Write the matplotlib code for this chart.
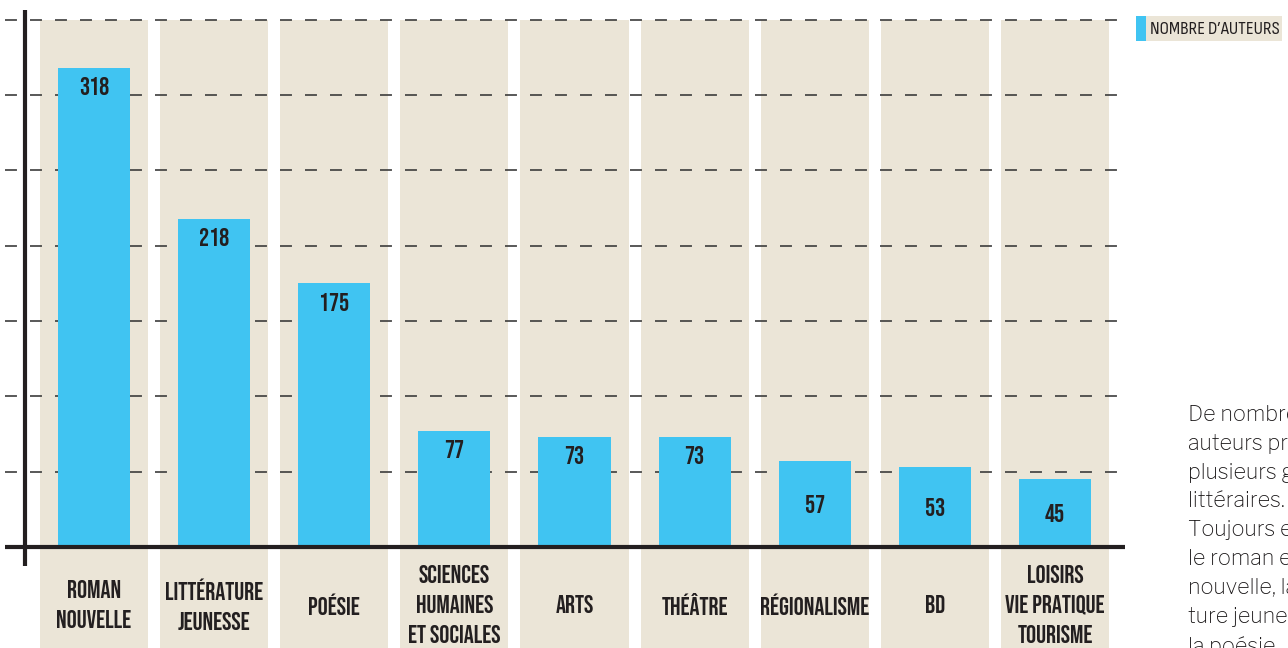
import matplotlib
matplotlib.use('Agg')
import matplotlib.pyplot as plt
from matplotlib.patches import Rectangle

plt.rcParams['lines.scale_dashes'] = False

categories = ['ROMAN\nNOUVELLE', 'LITTÉRATURE\nJEUNESSE', 'POÉSIE',
              'SCIENCES\nHUMAINES\nET SOCIALES', 'ARTS', 'THÉÂTRE',
              'RÉGIONALISME', 'BD', 'LOISIRS\nVIE PRATIQUE\nTOURISME']
auteurs = [318, 218, 175, 77, 73, 73, 57, 53, 45]
grid_values = [50, 100, 150, 200, 250, 300, 350]

blue = '#40c4f2'
beige = '#ebe5d7'
dark = '#231f20'
cond = ['Bebas Neue', 'Pathway Gothic One', 'DejaVu Sans']
legend_font = ['Sofia Sans Condensed', 'DejaVu Sans']
body_font = ['Libre Franklin', 'DejaVu Sans']

W, H = 1288, 648
fig = plt.figure(figsize=(W / 100, H / 100), dpi=100)
ax = fig.add_axes([0, 0, 1, 1])
ax.axis('off')

# pixel mapping: category i centred at 94 + 120.125*i, value 0 at y=547, 1.506 px/unit
xs = 120.125
ys = 1.506
ax.set_xlim(-94 / xs, (W - 94) / xs)
ax.set_ylim(-(H - 547) / ys, 547 / ys)

x = list(range(len(categories)))
bottom = -(H - 547) / ys

# beige columns
ax.bar(x, [350 - bottom] * len(x), bottom=bottom, width=0.9, color=beige, zorder=0)

# dashed grid
for g in grid_values:
    ax.plot([-89 / xs, 1031 / xs], [g, g], color='#3c3c3c', lw=1.2,
            linestyle=(0, (8.6, 9.4)), zorder=1)

# bars
ax.bar(x, auteurs, width=0.6, color=blue, zorder=2)

# axes lines
ax.plot([-89 / xs, 1031 / xs], [0, 0], color=dark, lw=3, zorder=3, solid_capstyle='butt')
ax.plot([-69 / xs, -69 / xs], [-19 / ys, 537 / ys], color=dark, lw=3, zorder=3,
        solid_capstyle='butt')

# value labels
for xi, v in zip(x, auteurs):
    y = v - 12 if v >= 60 else v / 2
    ax.text(xi, y, str(v), ha='center', va='center', fontsize=18,
            family=cond, color=dark, zorder=4)

# category labels
for xi, c in zip(x, categories):
    ax.text(xi, -57 / ys, c, ha='center', va='center', fontsize=18,
            family=cond, color=dark, linespacing=1.65, zorder=4)

# legend
fig.add_artist(Rectangle((1136 / W, 1 - 41 / H), 10 / W, 25 / H,
                         transform=fig.transFigure, color=blue, lw=0))
fig.add_artist(Rectangle((1146 / W, 1 - 41 / H), 136 / W, 25 / H,
                         transform=fig.transFigure, color=beige, lw=0))
fig.text(1150 / W, 1 - 29 / H, 'NOMBRE D\u2019AUTEURS', ha='left', va='center',
         fontsize=13.5, family=legend_font, color=dark)

# side text
fig.text(1188 / W, 1 - 405 / H,
         'De nombreux\nauteurs pratiquent\nplusieurs genres\nlittéraires.\n'
         'Toujours en tête,\nle roman et la\nnouvelle, la littéra-\nture jeunesse et\nla poésie.',
         ha='left', va='top', fontsize=15.5, family=body_font, fontweight=500,
         color='#1a1718', linespacing=1.55)

fig.savefig('out.png', dpi=100)
